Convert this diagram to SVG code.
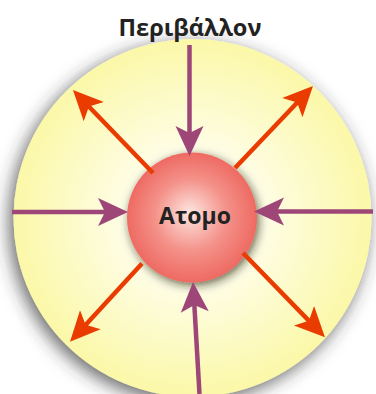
<svg xmlns="http://www.w3.org/2000/svg" width="376" height="394" viewBox="0 0 376 394">
  <defs>
    <radialGradient id="envGrad" cx="0.5" cy="0.5" r="0.5">
      <stop offset="0" stop-color="#ffffff"/>
      <stop offset="0.4" stop-color="#fefde4"/>
      <stop offset="1" stop-color="#fbf8a8"/>
    </radialGradient>
    <radialGradient id="atomGrad" cx="0.5" cy="0.5" r="0.5" fx="0.48" fy="0.46">
      <stop offset="0" stop-color="#fde6e0"/>
      <stop offset="0.55" stop-color="#f4928a"/>
      <stop offset="1" stop-color="#ee6a62"/>
    </radialGradient>
    <filter id="envShadow" x="-30%" y="-30%" width="160%" height="160%">
      <feDropShadow dx="-4" dy="5" stdDeviation="9" flood-color="#303030" flood-opacity="0.75"/>
    </filter>
    <filter id="atomShadow" x="-40%" y="-40%" width="180%" height="180%">
      <feDropShadow dx="2" dy="3" stdDeviation="5" flood-color="#1a1a00" flood-opacity="0.65"/>
    </filter>
    <marker id="headIn" viewBox="0 -15 30 30" refX="20" refY="0" markerWidth="30" markerHeight="30" markerUnits="userSpaceOnUse" orient="auto">
      <path d="M0,-14 L30,0 L0,14 L7,0 Z" fill="#9d4677"/>
    </marker>
    <marker id="headOut" viewBox="0 -15 30 30" refX="20" refY="0" markerWidth="30" markerHeight="30" markerUnits="userSpaceOnUse" orient="auto">
      <path d="M0,-14 L30,0 L0,14 L7,0 Z" fill="#ea3c00"/>
    </marker>
    <style>
      .lbl { font-family: "Open Sans", "Liberation Sans", sans-serif; font-weight: 700; fill: #222222; text-anchor: middle; }
      .in { stroke: #9d4677; stroke-width: 4.5; fill: none; marker-end: url(#headIn); }
      .out { stroke: #ea3c00; stroke-width: 4.5; fill: none; marker-end: url(#headOut); }
    </style>
  </defs>

  <g id="environment">
    <circle cx="192.5" cy="218" r="179" fill="url(#envGrad)" filter="url(#envShadow)"/>
    <text class="lbl" x="190" y="36" font-size="23.5">Περιβάλλον</text>
  </g>

  <g id="atom">
    <circle cx="192" cy="217.5" r="65" fill="url(#atomGrad)" filter="url(#atomShadow)"/>
    <text class="lbl" x="195" y="224" font-size="23">Ατομο</text>
  </g>

  <g id="connectors">
    <line class="in" x1="189.5" y1="45" x2="189.5" y2="146"/>
    <line class="in" x1="12" y1="212" x2="118" y2="212"/>
    <line class="in" x1="373" y1="211.5" x2="264" y2="211.5"/>
    <line class="in" x1="199.5" y1="394" x2="193.6" y2="292"/>
    <line class="out" x1="153" y1="173" x2="79.9" y2="97.2"/>
    <line class="out" x1="235" y1="168" x2="306.1" y2="93.2"/>
    <line class="out" x1="142" y1="263.5" x2="76.8" y2="334.4"/>
    <line class="out" x1="243" y1="253" x2="318" y2="330.1"/>
  </g>
</svg>
